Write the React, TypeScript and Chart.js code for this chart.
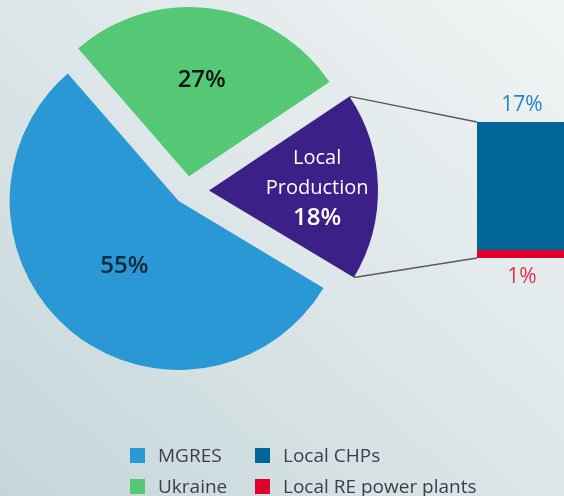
import React, { useEffect, useRef } from "react";
import { Chart, registerables } from "chart.js";

Chart.register(...registerables);

// ---- data ----
const PIE_LABELS = ["Ukraine", "Local Production", "MGRES"];
const PIE_VALUES = [27, 18, 55];
const BAR_LABELS = ["Local CHPs", "Local RE power plants"];
const BAR_VALUES = [17, 1];
const LEGEND_COLUMNS = [
  ["MGRES", "Ukraine"],
  ["Local CHPs", "Local RE power plants"],
];

// ---- styling ----
const PIE_COLORS = ["#55c875", "#3d2087", "#2a98d4"];
const BAR_COLORS = ["#006699", "#e0002b"];
const EXPLODE = [15, 22, 13];
const LABEL_RADIUS = [0.57, 0.64, 0.5];
const LABEL_COLORS = ["#141414", "#ffffff", "#0f2a40"];
const SHOW_NAME = [false, true, false];
const FONT = "'Open Sans', sans-serif";
const W = 564;
const H = 496;
const PIE_CX = 187;
const PIE_CY = 191;
const PIE_R = 169;
const BAR_LEFT = 477;
const BAR_RIGHT = 567;
const BAR_TOP = 122;
const BAR_BOTTOM = 258;
const BAR_CANVAS_W = 570;
const BAR_TEXT_COLORS = ["#e4324f", "#2a85c4"];

function arcVertex(arc: any, i: number) {
  const h = (arc.startAngle + arc.endAngle) / 2;
  return {
    h,
    x: arc.x + Math.cos(h) * EXPLODE[i],
    y: arc.y + Math.sin(h) * EXPLODE[i],
  };
}

const explodePlugin = {
  id: "explodePie",
  beforeDatasetDraw(chart: any, args: any) {
    const ctx = chart.ctx;
    args.meta.data.forEach((arc: any, i: number) => {
      const h = (arc.startAngle + arc.endAngle) / 2;
      ctx.save();
      ctx.translate(Math.cos(h) * EXPLODE[i], Math.sin(h) * EXPLODE[i]);
      arc.draw(ctx);
      ctx.restore();
    });
    return false;
  },
  afterDatasetsDraw(chart: any) {
    const ctx = chart.ctx;
    const meta = chart.getDatasetMeta(0);
    const values = chart.data.datasets[0].data;
    const labels = chart.data.labels;
    meta.data.forEach((arc: any, i: number) => {
      const v = arcVertex(arc, i);
      const r = arc.outerRadius * LABEL_RADIUS[i];
      const px = v.x + Math.cos(v.h) * r;
      const py = v.y + Math.sin(v.h) * r;
      const lines: { text: string; font: string }[] = [];
      if (SHOW_NAME[i]) {
        String(labels[i])
          .split(" ")
          .forEach((w) => lines.push({ text: w, font: `500 20px ${FONT}` }));
      }
      lines.push({ text: `${values[i]}%`, font: `600 24px ${FONT}` });
      ctx.save();
      ctx.fillStyle = LABEL_COLORS[i];
      ctx.textAlign = "center";
      ctx.textBaseline = "middle";
      const n = lines.length;
      lines.forEach((ln, k) => {
        ctx.font = ln.font;
        ctx.fillText(ln.text, px, py + (k - (n - 1) / 2) * 30);
      });
      ctx.restore();
    });
  },
};

function makeBarPlugin(pieRef: React.MutableRefObject<any>) {
  return {
    id: "barExtras",
    afterDatasetsDraw(chart: any) {
      const ctx = chart.ctx;
      const bottomBar = chart.getDatasetMeta(0).data[0];
      const topBar = chart.getDatasetMeta(1).data[0];
      const left = topBar.x - topBar.width / 2;
      const topY = topBar.y;
      const bottomY = bottomBar.base;

      // value labels
      ctx.save();
      ctx.textAlign = "center";
      ctx.textBaseline = "middle";
      ctx.font = `400 21px ${FONT}`;
      ctx.fillStyle = BAR_TEXT_COLORS[1];
      ctx.fillText(`${chart.data.datasets[1].data[0]}%`, topBar.x, topY - 17);
      ctx.fillStyle = BAR_TEXT_COLORS[0];
      ctx.fillText(`${chart.data.datasets[0].data[0]}%`, bottomBar.x, bottomY + 19);
      ctx.restore();

      // connector lines from the exploded pie slice
      const pie = pieRef.current;
      if (!pie) return;
      const arc = pie.getDatasetMeta(0).data[1];
      const v = arcVertex(arc, 1);
      const R = arc.outerRadius;
      const p1 = { x: v.x + Math.cos(arc.startAngle) * R, y: v.y + Math.sin(arc.startAngle) * R };
      const p2 = { x: v.x + Math.cos(arc.endAngle) * R, y: v.y + Math.sin(arc.endAngle) * R };
      ctx.save();
      ctx.strokeStyle = "#5a5a5a";
      ctx.lineWidth = 1.3;
      ctx.beginPath();
      ctx.moveTo(p1.x, p1.y);
      ctx.lineTo(left, topY);
      ctx.moveTo(p2.x, p2.y);
      ctx.lineTo(left, bottomY);
      ctx.stroke();
      ctx.restore();
    },
  };
}

export default function App() {
  const pieCanvas = useRef<HTMLCanvasElement>(null);
  const barCanvas = useRef<HTMLCanvasElement>(null);
  const pieRef = useRef<any>(null);

  useEffect(() => {
    const pie = new Chart(pieCanvas.current!, {
      type: "pie",
      data: {
        labels: PIE_LABELS,
        datasets: [
          {
            data: PIE_VALUES,
            backgroundColor: PIE_COLORS,
            borderWidth: 0,
          },
        ],
      },
      options: {
        responsive: false,
        animation: false,
        rotation: -41,
        radius: PIE_R,
        layout: {
          padding: { left: 0, top: 0, right: W - PIE_CX * 2, bottom: H - PIE_CY * 2 },
        },
        plugins: { legend: { display: false }, tooltip: { enabled: false } },
      },
      plugins: [explodePlugin],
    } as any);
    pieRef.current = pie;

    const bar = new Chart(barCanvas.current!, {
      type: "bar",
      data: {
        labels: [""],
        datasets: [
          { label: BAR_LABELS[1], data: [BAR_VALUES[1]], backgroundColor: BAR_COLORS[1], borderWidth: 0 },
          { label: BAR_LABELS[0], data: [BAR_VALUES[0]], backgroundColor: BAR_COLORS[0], borderWidth: 0 },
        ],
      },
      options: {
        responsive: false,
        animation: false,
        layout: {
          padding: {
            left: BAR_LEFT,
            right: BAR_CANVAS_W - BAR_RIGHT,
            top: BAR_TOP,
            bottom: H - BAR_BOTTOM,
          },
        },
        datasets: { bar: { barPercentage: 1, categoryPercentage: 1 } },
        scales: {
          x: { display: false, stacked: true },
          y: { display: false, stacked: true, min: 0, max: BAR_VALUES[0] + BAR_VALUES[1] },
        },
        plugins: { legend: { display: false }, tooltip: { enabled: false } },
      },
      plugins: [makeBarPlugin(pieRef)],
    } as any);

    return () => {
      bar.destroy();
      pie.destroy();
      pieRef.current = null;
    };
  }, []);

  const colorOf = (label: string) => {
    const pi = PIE_LABELS.indexOf(label);
    if (pi >= 0) return PIE_COLORS[pi];
    return BAR_COLORS[BAR_LABELS.indexOf(label)];
  };

  const colX = [130, 255];
  const rowY = [455, 486];

  return (
    <div
      style={{
        position: "fixed",
        left: 0,
        top: 0,
        width: W,
        height: H,
        overflow: "hidden",
        background: "linear-gradient(to top right, #c5d6d9 0%, #dde6e8 50%, #f1f4f5 100%)",
        fontFamily: FONT,
      }}
    >
      <canvas ref={pieCanvas} width={W} height={H} style={{ position: "absolute", left: 0, top: 0 }} />
      <canvas
        ref={barCanvas}
        width={BAR_CANVAS_W}
        height={H}
        style={{ position: "absolute", left: 0, top: 0 }}
      />
      {LEGEND_COLUMNS.map((col, ci) =>
        col.map((label, ri) => (
          <div
            key={label}
            style={{
              position: "absolute",
              left: colX[ci],
              top: rowY[ri] - 13,
              height: 26,
              display: "flex",
              alignItems: "center",
              whiteSpace: "nowrap",
            }}
          >
            <span
              style={{
                display: "inline-block",
                width: 15,
                height: 15,
                background: colorOf(label),
                marginRight: 13,
              }}
            />
            <span style={{ fontSize: 19, color: "#3d3d4a", lineHeight: "26px" }}>{label}</span>
          </div>
        ))
      )}
    </div>
  );
}
